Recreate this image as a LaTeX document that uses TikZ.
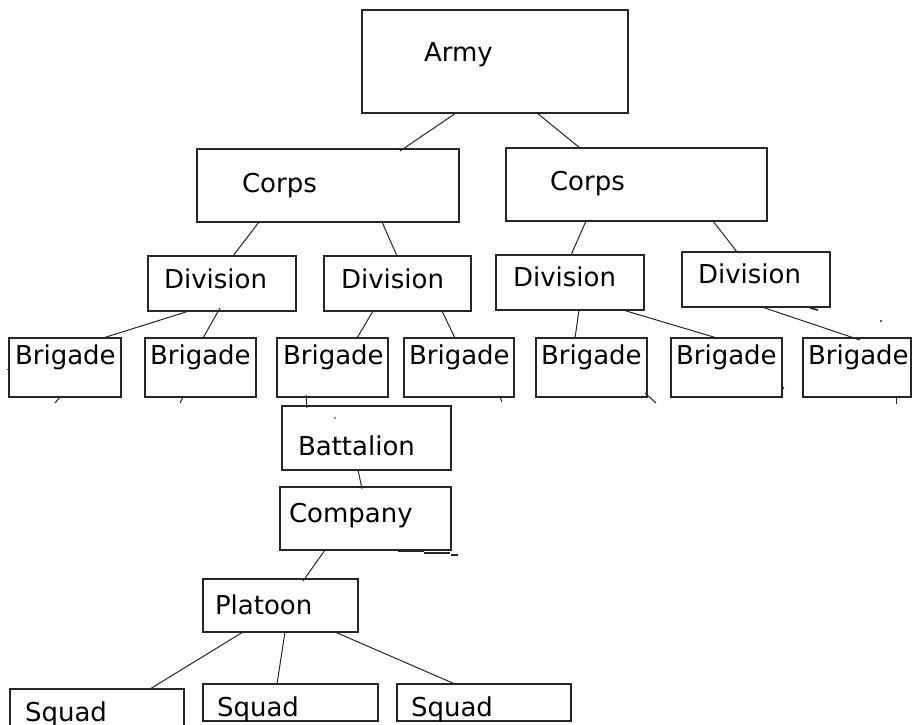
\documentclass[tikz,border=0pt]{standalone}
\usepackage{fontspec}
\setmainfont{DejaVu Sans}
\begin{document}
\begin{tikzpicture}[x=1pt,y=-1pt,
  box/.style={draw=black!85, line width=1.3pt, inner sep=0pt, outer sep=0pt, anchor=north west, rectangle},
  lbl/.style={anchor=base west, inner sep=0pt, outer sep=0pt, font=\fontsize{26}{30}\selectfont},
  con/.style={draw=black!85, line width=1pt},
  dotmark/.style={fill=black!85}]
\useasboundingbox (0,0) rectangle (912,724);
\clip (0,0) rectangle (912,724);
% boxes
\node[box, minimum width=266pt, minimum height=103pt] (army) at (362,10) {};
\node[box, minimum width=262pt, minimum height=73pt] (corpsL) at (197,149) {};
\node[box, minimum width=261pt, minimum height=73pt] (corpsR) at (506,148) {};
\node[box, minimum width=148pt, minimum height=55pt] (div1) at (148,256) {};
\node[box, minimum width=147pt, minimum height=55pt] (div2) at (324,256) {};
\node[box, minimum width=148pt, minimum height=55pt] (div3) at (496,255) {};
\node[box, minimum width=148pt, minimum height=55pt] (div4) at (682,252) {};
\node[box, minimum width=112pt, minimum height=59pt] (b1) at (9,338) {};
\node[box, minimum width=111pt, minimum height=59pt] (b2) at (145,338) {};
\node[box, minimum width=111pt, minimum height=59pt] (b3) at (277,338) {};
\node[box, minimum width=110pt, minimum height=59pt] (b4) at (404,338) {};
\node[box, minimum width=111pt, minimum height=59pt] (b5) at (536,338) {};
\node[box, minimum width=111pt, minimum height=59pt] (b6) at (671,338) {};
\node[box, minimum width=108pt, minimum height=59pt] (b7) at (803,338) {};
\node[box, minimum width=169pt, minimum height=64pt] (battalion) at (282,406) {};
\node[box, minimum width=171pt, minimum height=63pt] (company) at (280,487) {};
\node[box, minimum width=155pt, minimum height=53pt] (platoon) at (203,579) {};
\node[box, minimum width=174pt, minimum height=60pt] (squad1) at (10,689) {};
\node[box, minimum width=175pt, minimum height=37pt] (squad2) at (203,684) {};
\node[box, minimum width=174pt, minimum height=37pt] (squad3) at (397,684) {};
% labels
\node[lbl] (tArmy) at (424,61) {Army};
\node[lbl] (tCorpsL) at (242,192) {Corps};
\node[lbl] (tCorpsR) at (550,190) {Corps};
\node[lbl] (tDiv1) at (164,288) {Division};
\node[lbl] (tDiv2) at (341,288) {Division};
\node[lbl] (tDiv3) at (513,286) {Division};
\node[lbl] (tDiv4) at (698,283) {Division};
\node[lbl] (tB1) at (15,364) {Brigade};
\node[lbl] (tB2) at (150,364) {Brigade};
\node[lbl] (tB3) at (283,364) {Brigade};
\node[lbl] (tB4) at (409,364) {Brigade};
\node[lbl] (tB5) at (541,364) {Brigade};
\node[lbl] (tB6) at (676,364) {Brigade};
\node[lbl] (tB7) at (808,364) {Brigade};
\node[lbl] (tBattalion) at (298,455) {Battalion};
\node[lbl] (tCompany) at (289,522) {Company};
\node[lbl] (tPlatoon) at (215,614) {Platoon};
\node[lbl] (tSquad1) at (25,721) {Squad};
\node[lbl] (tSquad2) at (217,716) {Squad};
\node[lbl] (tSquad3) at (411,716) {Squad};
% connectors
\draw[con] ([xshift=94pt]army.south west) -- ([xshift=203pt,yshift=-2pt]corpsL.north west);
\draw[con] ([xshift=175pt]army.south west) -- ([xshift=74pt]corpsR.north west);
\draw[con] ([xshift=62pt]corpsL.south west) -- ([xshift=85pt]div1.north west);
\draw[con] ([xshift=185pt]corpsL.south west) -- ([xshift=73pt]div2.north west);
\draw[con] ([xshift=80pt]corpsR.south west) -- ([xshift=75pt]div3.north west);
\draw[con] ([xshift=207pt]corpsR.south west) -- ([xshift=55pt]div4.north west);
\draw[con] ([xshift=41pt]div1.south west) -- ([xshift=94pt]b1.north west);
\draw[con] ([xshift=72pt,yshift=3pt]div1.south west) -- ([xshift=58pt]b2.north west);
\draw[con] ([xshift=49pt]div2.south west) -- ([xshift=80pt]b3.north west);
\draw[con] ([xshift=118pt]div2.south west) -- ([xshift=51pt]b4.north west);
\draw[con] ([xshift=83pt]div3.south west) -- ([xshift=39pt]b5.north west);
\draw[con] ([xshift=127pt]div3.south west) -- ([xshift=46pt]b6.north west);
\draw[con] ([xshift=80pt]div4.south west) -- ([xshift=57pt,yshift=-2pt]b7.north west);
\draw[con] ([xshift=29pt,yshift=2pt]b3.south west) -- ([xshift=25pt,yshift=-2pt]battalion.north west);
\draw[con] ([xshift=76pt]battalion.south west) -- ([xshift=82pt,yshift=-2pt]company.north west);
\draw[con] ([xshift=45pt]company.south west) -- ([xshift=100pt,yshift=-2pt]platoon.north west);
\draw[con] ([xshift=40pt]platoon.south west) -- ([xshift=140pt]squad1.north west);
\draw[con] ([xshift=82pt]platoon.south west) -- ([xshift=74pt]squad2.north west);
\draw[con] ([xshift=132pt]platoon.south west) -- ([xshift=58pt]squad3.north west);
% stray stubs
\coordinate (s1) at (55,403);
\coordinate (s2) at (180,403);
\coordinate (s4) at (502,402);
\coordinate (s5) at (656,403);
\coordinate (s7) at (896,404);
\coordinate (sd4) at (818,310);
\coordinate (sc1) at (424,553);
\coordinate (sc2) at (450,553);
\coordinate (sc3) at (451,555);
\coordinate (sc4) at (458,555);
\draw[con] ([xshift=51pt]b1.south west) -- (s1);
\draw[con] ([xshift=38pt]b2.south west) -- (s2);
\draw[con] ([xshift=96pt]b4.south west) -- (s4);
\draw[con] ([xshift=109pt,yshift=4pt]b5.south west) -- (s5);
\draw[con] ([xshift=93pt]b7.south west) -- (s7);
\draw[con, line width=1.6pt] ([xshift=128pt,yshift=-1pt]div4.south west) -- (sd4);
\draw[con, line width=2.2pt] ([xshift=118pt,yshift=-1pt]company.south west) -- ([xshift=144pt,yshift=-1pt]company.south west);
\draw[con, line width=1.2pt] (sc1) -- (sc2);
\draw[con, line width=1.2pt] (sc3) -- (sc4);
\draw[con] (7,369) -- (b1.west |- 0,369);
% dots
\fill[dotmark] (881,321) circle (1.1);
\fill[dotmark] (783,388) circle (1.3);
\fill[dotmark] (335,418) circle (0.9);
\end{tikzpicture}
\end{document}
